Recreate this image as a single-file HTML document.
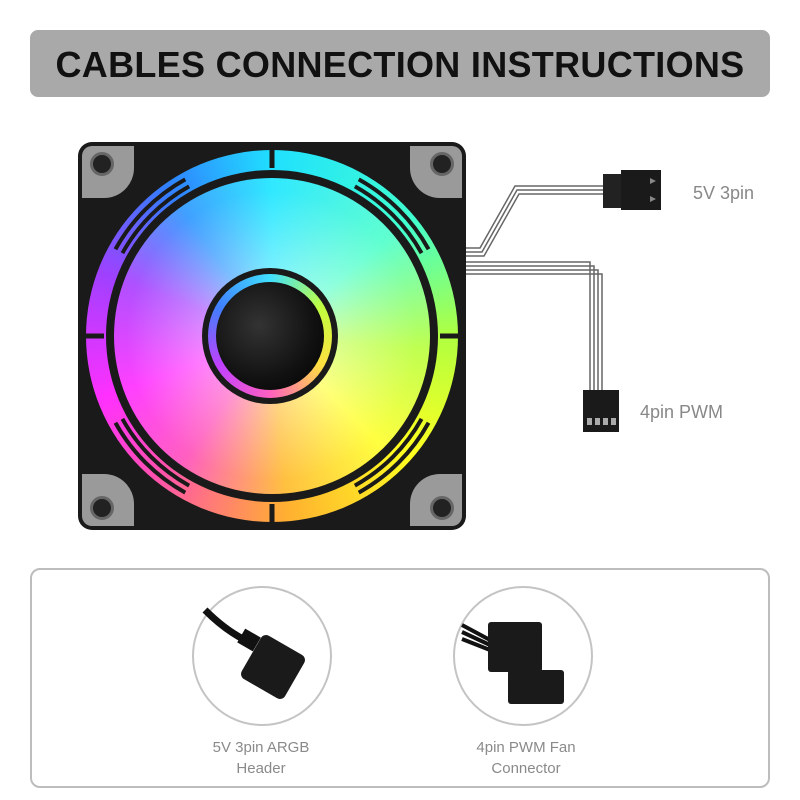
<!DOCTYPE html>
<html><head><meta charset="utf-8"><style>
body{margin:0;width:800px;height:800px;background:#fff;position:relative;overflow:hidden;font-family:"Liberation Sans",sans-serif}
.title{position:absolute;left:30px;top:30px;width:740px;height:67px;background:#a9a9a9;border-radius:8px;text-align:center;line-height:69px;font-weight:bold;font-size:36px;color:#111;letter-spacing:0.3px}
.fan{position:absolute;left:78px;top:142px;width:388px;height:388px;background:#1a1a1a;border-radius:14px}
.pad{position:absolute;width:52px;height:52px;background:#9a9a9a}
.hole{position:absolute;width:18px;height:18px;border-radius:50%;background:#222;border:3px solid #666}
.ring{position:absolute;left:86px;top:150px;width:372px;height:372px;border-radius:50%;
background:conic-gradient(#20e0ff 0deg,#40ffd0 50deg,#b0ff40 90deg,#ffff20 130deg,#ffb030 175deg,#ff50b0 220deg,#ff30ff 250deg,#a040ff 290deg,#3080ff 325deg,#20e0ff 360deg)}
.ringmask{position:absolute;left:106px;top:170px;width:332px;height:332px;border-radius:50%;background:#1a1a1a}
.disc{position:absolute;left:114px;top:178px;width:316px;height:316px;border-radius:50%;
background:radial-gradient(circle,rgba(255,255,255,.85) 0%,rgba(255,255,255,.35) 30%,rgba(255,255,255,0) 65%),conic-gradient(#30e8ff 0deg,#60ffd0 50deg,#c0ff50 95deg,#ffff40 135deg,#ffc040 175deg,#ff60c0 215deg,#ff40ff 250deg,#b050ff 290deg,#40a0ff 325deg,#30e8ff 360deg)}
.hub{position:absolute;left:202px;top:268px;width:136px;height:136px;border-radius:50%;background:#1a1a1a}
.hubring{position:absolute;left:208px;top:274px;width:124px;height:124px;border-radius:50%;background:conic-gradient(#40e0ff,#c0ff40,#ffe040,#ff60c0,#c040ff,#4080ff,#40e0ff)}
.hubin{position:absolute;left:216px;top:282px;width:108px;height:108px;border-radius:50%;background:radial-gradient(circle at 40% 40%,#333 0%,#111 60%,#000 100%)}
.lbl{position:absolute;color:#888;font-size:18px}
.box{position:absolute;left:30px;top:568px;width:736px;height:216px;border:2px solid #bdbdbd;border-radius:10px}
.circ{position:absolute;width:136px;height:136px;border:2px solid #c4c4c4;border-radius:50%;background:#fff}
.cap{position:absolute;width:200px;text-align:center;color:#8a8a8a;font-size:15px;line-height:21px}
</style></head><body>
<div class="title">CABLES CONNECTION INSTRUCTIONS</div>
<div class="fan">
 <div class="pad" style="left:4px;top:4px;border-radius:10px 0 30px 0"></div>
 <div class="pad" style="right:4px;top:4px;border-radius:0 10px 0 30px"></div>
 <div class="pad" style="left:4px;bottom:4px;border-radius:0 30px 0 10px"></div>
 <div class="pad" style="right:4px;bottom:4px;border-radius:30px 0 10px 0"></div>
 <div class="hole" style="left:12px;top:10px"></div>
 <div class="hole" style="right:12px;top:10px"></div>
 <div class="hole" style="left:12px;bottom:10px"></div>
 <div class="hole" style="right:12px;bottom:10px"></div>
</div>
<div class="ring"></div>
<div class="ringmask"></div>
<div class="disc"></div>
<div class="hub"></div><div class="hubring"></div><div class="hubin"></div>
<svg style="position:absolute;left:0;top:0" width="800" height="800">
 <g fill="none" stroke="#1a1a1a" stroke-width="4" stroke-dasharray="32 58" stroke-dashoffset="-29">
  <circle cx="272" cy="336" r="171" pathLength="360"/>
  <circle cx="272" cy="336" r="179" pathLength="360"/>
 </g>
 <g stroke="#1a1a1a" stroke-width="5">
  <line x1="272" y1="150" x2="272" y2="168"/><line x1="272" y1="504" x2="272" y2="522"/>
  <line x1="86" y1="336" x2="104" y2="336"/><line x1="440" y1="336" x2="458" y2="336"/>
 </g>
 <g fill="none" stroke="#666" stroke-width="1.5">
  <path d="M466 248 L480 248 L515 186 L605 186"/><path d="M466 252 L482 252 L517 190 L605 190"/>
  <path d="M466 256 L484 256 L519 194 L605 194"/>
  <path d="M466 262 L590 262 L590 390"/><path d="M466 266 L594 266 L594 390"/>
  <path d="M466 270 L598 270 L598 390"/><path d="M466 274 L602 274 L602 390"/>
 </g>
 <rect x="603" y="174" width="20" height="34" fill="#222"/>
 <rect x="621" y="170" width="40" height="40" fill="#1a1a1a"/>
 <polygon points="650,178 656,181 650,184" fill="#888"/><polygon points="650,196 656,199 650,202" fill="#888"/>
 <rect x="583" y="390" width="36" height="42" fill="#1a1a1a"/>
 <rect x="587" y="418" width="5" height="7" fill="#aaa"/><rect x="595" y="418" width="5" height="7" fill="#aaa"/>
 <rect x="603" y="418" width="5" height="7" fill="#aaa"/><rect x="611" y="418" width="5" height="7" fill="#aaa"/>
</svg>
<div class="lbl" style="left:693px;top:183px">5V 3pin</div>
<div class="lbl" style="left:640px;top:402px">4pin PWM</div>
<div class="box"></div>
<div class="circ" style="left:192px;top:586px"></div>
<div class="circ" style="left:453px;top:586px"></div>
<svg style="position:absolute;left:0;top:0" width="800" height="800">
 <path d="M205 610 Q225 630 245 640" stroke="#111" stroke-width="7" fill="none"/>
 <rect x="240" y="632" width="18" height="16" fill="#111" transform="rotate(30 249 640)"/>
 <rect x="248" y="642" width="50" height="50" rx="6" fill="#1a1a1a" transform="rotate(30 273 667)"/>
 <path d="M462 625 L490 640 M462 632 L490 645 M462 639 L490 650" stroke="#111" stroke-width="4"/>
 <rect x="488" y="622" width="54" height="50" rx="3" fill="#1a1a1a"/>
 <rect x="508" y="670" width="56" height="34" rx="3" fill="#1a1a1a"/>
</svg>
<div class="cap" style="left:161px;top:737px">5V 3pin ARGB<br>Header</div>
<div class="cap" style="left:426px;top:737px">4pin PWM Fan<br>Connector</div>
</body></html>
